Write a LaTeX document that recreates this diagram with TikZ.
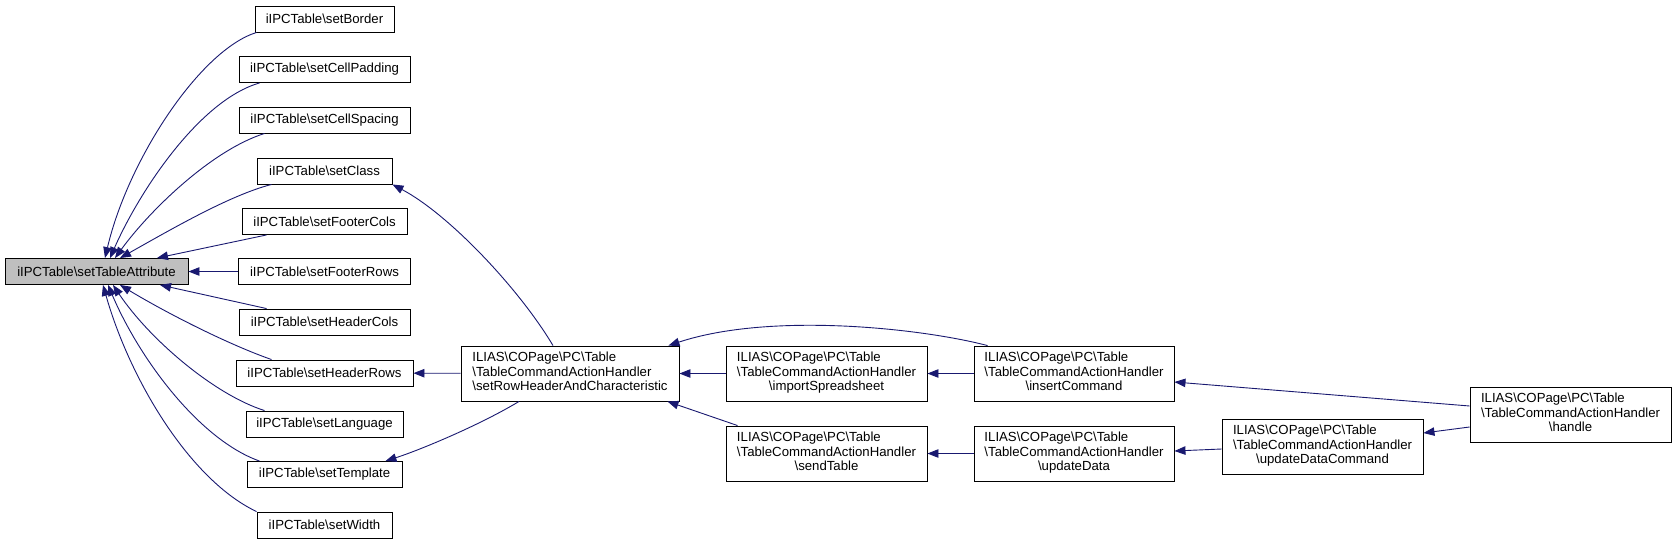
\documentclass[tikz,border=0pt]{standalone}
\usepackage{fontspec}
\setmainfont{Liberation Sans}
\usetikzlibrary{arrows.meta}
\definecolor{edgeblue}{HTML}{191970}
\definecolor{rootgray}{HTML}{BFBFBF}
\newcommand{\BSx}{\textbackslash}
\newcommand{\ThreeL}[3]{\begin{tabular}{@{}l@{}}#1\\#2\\\multicolumn{1}{@{}c@{}}{#3}\end{tabular}}
\tikzset{
  box/.style={draw=black, line width=0.9pt, fill=white, inner sep=0pt, minimum height=26pt,
    font=\fontsize{13.2}{14.5}\selectfont},
  bigbox/.style={box, minimum height=55pt},
  cedge/.style={draw=edgeblue, line width=0.9pt, -{Triangle[length=11pt,width=8.5pt]}},
}
\begin{document}
\begin{tikzpicture}[x=1pt,y=-1pt]
\useasboundingbox (0,0) rectangle (1676,544);
% left column
\node[box, fill=rootgray, minimum width=183pt] (sta) at (96.5,271.5) {iIPCTable\BSx setTableAttribute};
\node[box, minimum width=139pt] (sb)  at (324.5,19)    {iIPCTable\BSx setBorder};
\node[box, minimum width=171pt] (scp) at (324.5,69.5)  {iIPCTable\BSx setCellPadding};
\node[box, minimum width=171pt] (scs) at (324.5,120)   {iIPCTable\BSx setCellSpacing};
\node[box, minimum width=135pt] (sc)  at (324.5,171)   {iIPCTable\BSx setClass};
\node[box, minimum width=165pt] (sfc) at (324.5,221.5) {iIPCTable\BSx setFooterCols};
\node[box, minimum width=172pt] (sfr) at (324.5,271.5) {iIPCTable\BSx setFooterRows};
\node[box, minimum width=171pt] (shc) at (324.5,322)   {iIPCTable\BSx setHeaderCols};
\node[box, minimum width=177pt] (shr) at (324.5,373)   {iIPCTable\BSx setHeaderRows};
\node[box, minimum width=157pt] (sl)  at (324.5,424)   {iIPCTable\BSx setLanguage};
\node[box, minimum width=155pt] (st)  at (324.5,474.5) {iIPCTable\BSx setTemplate};
\node[box, minimum width=135pt] (sw)  at (324.5,525)   {iIPCTable\BSx setWidth};
% right part
\node[bigbox, minimum width=218pt] (rh) at (570,373.5)
  {\ThreeL{ILIAS\BSx COPage\BSx PC\BSx Table}{\BSx TableCommandActionHandler}{\BSx setRowHeaderAndCharacteristic}};
\node[bigbox, minimum width=201pt] (imp) at (826.5,373.5)
  {\ThreeL{ILIAS\BSx COPage\BSx PC\BSx Table}{\BSx TableCommandActionHandler}{\BSx importSpreadsheet}};
\node[bigbox, minimum width=201pt] (send) at (826.5,453.5)
  {\ThreeL{ILIAS\BSx COPage\BSx PC\BSx Table}{\BSx TableCommandActionHandler}{\BSx sendTable}};
\node[bigbox, minimum width=200pt] (ins) at (1074,373.5)
  {\ThreeL{ILIAS\BSx COPage\BSx PC\BSx Table}{\BSx TableCommandActionHandler}{\BSx insertCommand}};
\node[bigbox, minimum width=200pt] (upd) at (1074,453.5)
  {\ThreeL{ILIAS\BSx COPage\BSx PC\BSx Table}{\BSx TableCommandActionHandler}{\BSx updateData}};
\node[bigbox, minimum width=201pt] (udc) at (1322.5,446.5)
  {\ThreeL{ILIAS\BSx COPage\BSx PC\BSx Table}{\BSx TableCommandActionHandler}{\BSx updateDataCommand}};
\node[bigbox, minimum width=201pt] (hd) at (1570.5,414.5)
  {\ThreeL{ILIAS\BSx COPage\BSx PC\BSx Table}{\BSx TableCommandActionHandler}{\BSx handle}};
% edges into setTableAttribute
\draw[cedge] ([xshift=2pt]sb.south west) .. controls (200,50) and (128,160) .. ([xshift=8.5pt]sta.north);
\draw[cedge] ([xshift=21pt]scp.south west) .. controls (200,100) and (140,190) .. ([xshift=13.5pt]sta.north);
\draw[cedge] ([xshift=26pt]scs.south west) .. controls (212,150) and (150,210) .. ([xshift=18.5pt]sta.north);
\draw[cedge] ([xshift=15pt]sc.south west) .. controls (230,195) and (170,230) .. ([xshift=23.5pt]sta.north);
\draw[cedge] ([xshift=25pt]sfc.south west) -- ([xshift=60.5pt]sta.north);
\draw[cedge] (sfr) -- (sta);
\draw[cedge] ([xshift=28pt]shc.north west) -- ([xshift=63.5pt]sta.south);
\draw[cedge] ([xshift=36pt]shr.north west) .. controls (230,345) and (170,315) .. ([xshift=23.5pt]sta.south);
\draw[cedge] ([xshift=19pt]sl.north west) .. controls (215,395) and (150,340) .. ([xshift=16.5pt]sta.south);
\draw[cedge] ([xshift=13pt]st.north west) .. controls (200,440) and (140,360) .. ([xshift=11.5pt]sta.south);
\draw[cedge] (sw.north west) .. controls (190,480) and (130,380) .. ([xshift=6.5pt]sta.south);
% edges from setRowHeaderAndCharacteristic
\draw[cedge] ([xshift=-17pt]rh.north) .. controls (520,290) and (450,215) .. (sc.south east);
\draw[cedge] (rh) -- (shr);
\draw[cedge] ([xshift=-51pt]rh.south) .. controls (480,425) and (420,450) .. ([xshift=-17pt]st.north east);
% further edges
\draw[cedge] (imp) -- (rh);
\draw[cedge] ([xshift=12pt]send.north west) -- ([xshift=-12pt]rh.south east);
\draw[cedge] ([xshift=14pt]ins.north west) .. controls (920,328) and (770,312) .. ([xshift=-11pt]rh.north east);
\draw[cedge] (ins) -- (imp);
\draw[cedge] (upd) -- (send);
\draw[cedge] ([yshift=8.5pt]hd.west) -- ([yshift=-8.5pt]ins.east);
\draw[cedge] ([yshift=-2.5pt]udc.west) -- ([yshift=2.5pt]upd.east);
\draw[cedge] ([yshift=-12.5pt]hd.west) -- ([yshift=13.5pt]udc.east);
\end{tikzpicture}
\end{document}
